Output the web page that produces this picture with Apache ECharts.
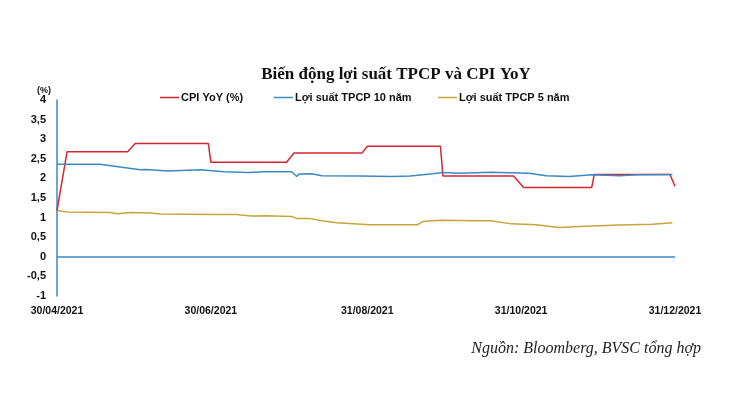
<!DOCTYPE html>
<html>
<head>
<meta charset="utf-8">
<script src="https://cdn.jsdelivr.net/npm/echarts@6/dist/echarts.min.js"></script>
<style>
  html, body { margin: 0; padding: 0; background: #fff; }
  #chart { width: 732px; height: 400px; }
</style>
</head>
<body>
<div id="chart"></div>
<script>
// CPI YoY (%), step series
const cpiDates = ['2021-04-30', '2021-05-04', '2021-05-28', '2021-05-31', '2021-06-29', '2021-06-30',
  '2021-07-30', '2021-08-02', '2021-08-29', '2021-08-31', '2021-09-29', '2021-09-30',
  '2021-10-28', '2021-11-01', '2021-11-28', '2021-11-29', '2021-12-29', '2021-12-31']
const cpiValues = [1.18, 2.68, 2.68, 2.89, 2.89, 2.41, 2.41, 2.65, 2.65, 2.82, 2.82, 2.06,
  2.06, 1.77, 1.77, 2.1, 2.1, 1.8]

// Loi suat TPCP 10 nam
const y10Dates = ['2021-04-30', '2021-05-17', '2021-05-25', '2021-06-02', '2021-06-04', '2021-06-13',
  '2021-06-26', '2021-07-05', '2021-07-15', '2021-07-21', '2021-08-01', '2021-08-03', '2021-08-04',
  '2021-08-09', '2021-08-13', '2021-08-28', '2021-09-10', '2021-09-17', '2021-09-26', '2021-09-30',
  '2021-10-07', '2021-10-19', '2021-11-03', '2021-11-10', '2021-11-19', '2021-11-28', '2021-12-09',
  '2021-12-16', '2021-12-30']
const y10Values = [2.36, 2.36, 2.29, 2.22, 2.23, 2.19, 2.22, 2.17, 2.15, 2.17, 2.17, 2.05, 2.11,
  2.12, 2.07, 2.06, 2.05, 2.06, 2.12, 2.15, 2.13, 2.16, 2.13, 2.07, 2.05, 2.09, 2.07, 2.09, 2.1]

// Loi suat TPCP 5 nam
const y5Dates = ['2021-04-30', '2021-05-04', '2021-05-21', '2021-05-24', '2021-05-29', '2021-06-06',
  '2021-06-10', '2021-07-02', '2021-07-10', '2021-07-16', '2021-07-22', '2021-08-01', '2021-08-03',
  '2021-08-08', '2021-08-13', '2021-08-19', '2021-09-01', '2021-09-20', '2021-09-22', '2021-09-29',
  '2021-10-13', '2021-10-19', '2021-10-27', '2021-11-06', '2021-11-15', '2021-11-23', '2021-12-09',
  '2021-12-22', '2021-12-30']
const y5Values = [1.18, 1.14, 1.13, 1.1, 1.13, 1.12, 1.09, 1.08, 1.08, 1.04, 1.05, 1.03, 0.98,
  0.98, 0.92, 0.87, 0.82, 0.82, 0.9, 0.93, 0.92, 0.92, 0.84, 0.82, 0.75, 0.77, 0.81, 0.83, 0.87]

const tickDates = ['2021-04-30', '2021-06-30', '2021-08-31', '2021-10-31', '2021-12-31']

const seriesNames = ['CPI YoY (%)', 'Lợi suất TPCP 10 năm', 'Lợi suất TPCP 5 năm']
const colors = ['#d22630', '#3b8ac4', '#c9a43a']

const toTime = s => {
  const [y, m, d] = s.split('-').map(Number)
  return new Date(y, m - 1, d).getTime()
}
const pairs = (dates, values) => dates.map((d, i) => [toTime(d), values[i]])
const pad = n => (n < 10 ? '0' : '') + n

const chart = echarts.init(document.getElementById('chart'))

const legendBase = {
  top: 92,
  padding: 0,
  icon: 'rect',
  itemWidth: 19,
  itemHeight: 1.5,
  itemGap: 0,
  textStyle: { fontFamily: 'Liberation Sans', fontWeight: 'bold', fontSize: 11, color: '#111', padding: [0, 0, 0, -3] }
}

chart.setOption({
  animation: false,
  color: colors,
  title: [
    {
      text: 'Biến động lợi suất TPCP và CPI YoY',
      left: 391,
      textAlign: 'center',
      top: 61,
      textStyle: { fontFamily: 'Liberation Serif', fontWeight: 'bold', fontSize: 17, color: '#111' }
    },
    {
      text: 'Nguồn: Bloomberg, BVSC tổng hợp',
      right: 26,
      top: 336,
      textStyle: { fontFamily: 'Liberation Serif', fontStyle: 'italic', fontWeight: 'normal', fontSize: 16, color: '#222' }
    }
  ],
  legend: [
    Object.assign({ left: 160, data: [seriesNames[0]] }, legendBase),
    Object.assign({ left: 274, data: [seriesNames[1]] }, legendBase),
    Object.assign({ left: 438, data: [seriesNames[2]] }, legendBase)
  ],
  grid: { left: 57, right: 57, top: 100, bottom: 104 },
  xAxis: {
    type: 'value',
    min: toTime(tickDates[0]),
    max: toTime(tickDates[tickDates.length - 1]),
    axisLine: { show: false, onZero: false },
    axisTick: { show: false },
    splitLine: { show: false },
    axisLabel: {
      customValues: tickDates.map(toTime),
      formatter: v => {
        const d = new Date(v)
        return pad(d.getDate()) + '/' + pad(d.getMonth() + 1) + '/' + d.getFullYear()
      },
      margin: 10,
      fontFamily: 'Liberation Sans',
      fontWeight: 'bold',
      fontSize: 10.5,
      color: '#111'
    }
  },
  yAxis: {
    type: 'value',
    min: -1,
    max: 4,
    interval: 0.5,
    name: '(%)',
    nameLocation: 'end',
    nameGap: 5,
    nameTextStyle: { fontFamily: 'Liberation Sans', fontWeight: 'bold', fontSize: 9, color: '#111', align: 'right', padding: [0, 6, -4, 0] },
    axisLine: { show: true, lineStyle: { color: '#3b8ac4', width: 1.5 } },
    axisTick: { show: false },
    splitLine: { show: false },
    axisLabel: {
      formatter: v => String(v).replace('.', ','),
      margin: 11,
      fontFamily: 'Liberation Sans',
      fontWeight: 'bold',
      fontSize: 11,
      color: '#111'
    }
  },
  series: [
    {
      name: seriesNames[0],
      type: 'line',
      data: pairs(cpiDates, cpiValues),
      symbol: 'none',
      lineStyle: { width: 1.5, color: colors[0] },
      z: 3
    },
    {
      name: seriesNames[1],
      type: 'line',
      data: pairs(y10Dates, y10Values),
      symbol: 'none',
      lineStyle: { width: 1.5, color: colors[1] },
      z: 4,
      markLine: {
        silent: true,
        symbol: 'none',
        label: { show: false },
        lineStyle: { color: colors[1], width: 1.5, type: 'solid' },
        data: [{ yAxis: 0 }]
      }
    },
    {
      name: seriesNames[2],
      type: 'line',
      data: pairs(y5Dates, y5Values),
      symbol: 'none',
      lineStyle: { width: 1.5, color: colors[2] },
      z: 2
    }
  ]
})

window.addEventListener('resize', () => {
  chart.resize()
})
</script>
</body>
</html>
